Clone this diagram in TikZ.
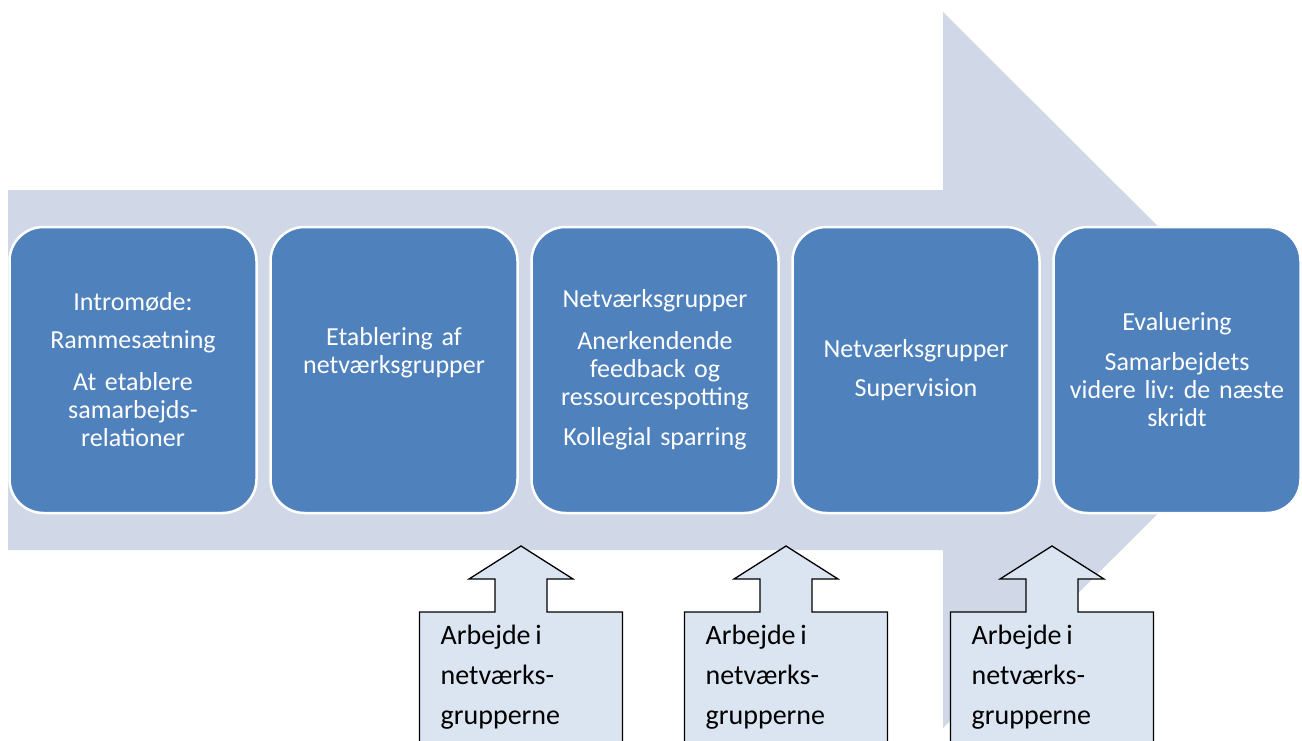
\documentclass[tikz,border=0pt]{standalone}
\usepackage{fontspec}
\setmainfont[WordSpace=0.75]{Carlito}
\frenchspacing
\definecolor{arrowbg}{RGB}{208,216,232}
\definecolor{stepblue}{RGB}{79,129,189}
\definecolor{calloutfill}{RGB}{219,229,241}
\begin{document}
\begin{tikzpicture}[x=1pt,y=-1pt,
  stage/.style={draw=white, line width=2.5pt, fill=stepblue,
    rounded corners=34pt, minimum width=247pt, minimum height=286pt,
    text width=240pt, align=center, text=white, inner sep=0pt,
    font=\fontsize{26}{28}\selectfont},
  callout/.style={draw=black, line width=1.3pt, fill=calloutfill},
  callouttext/.style={anchor=north west, align=left, inner sep=0pt,
    font=\fontsize{28}{40}\selectfont}]
\useasboundingbox (0,0) rectangle (1302,740);
\clip (0,0) rectangle (1302,740);

% large background process arrow
\fill[arrowbg] (8,190) -- (943,190) -- (943,12) -- (1302,370)
  -- (943,728) -- (943,550) -- (8,550) -- cycle;

% the five stages
\node[stage] (s1) at (133,370) {Intromøde:\\[10pt]Rammesætning\\[14pt]At etablere\\samarbejds-\\relationer};
\node[stage] (s2) at (394,370) {Etablering af\\netværksgrupper\\[12pt]\mbox{}};
\node[stage] (s3) at (655,370) {Netværksgrupper\\[14pt]Anerkendende\\feedback og\\ressourcespotting\\[12pt]Kollegial sparring};
\node[stage] (s4) at (916,370) {Netværksgrupper\\[11pt]Supervision};
\node[stage] (s5) at (1177,370) {Evaluering\\[12pt]Samarbejdets\\videre liv: de næste\\skridt};

% up-arrow callouts below the stages
\foreach \c/\n in {521/c1, 786/c2, 1052/c3} {
  \draw[callout] (\c-101.5,612) -- (\c-26,612) -- (\c-26,579) -- (\c-52,579)
    -- (\c,546) -- (\c+52,579) -- (\c+26,579) -- (\c+26,612)
    -- (\c+101.5,612) -- (\c+101.5,760) -- (\c-101.5,760) -- cycle;
  \node[callouttext] (\n) at (\c-80.5,625) {Arbejde i\\netværks-\\grupperne};
}
\end{tikzpicture}
\end{document}
